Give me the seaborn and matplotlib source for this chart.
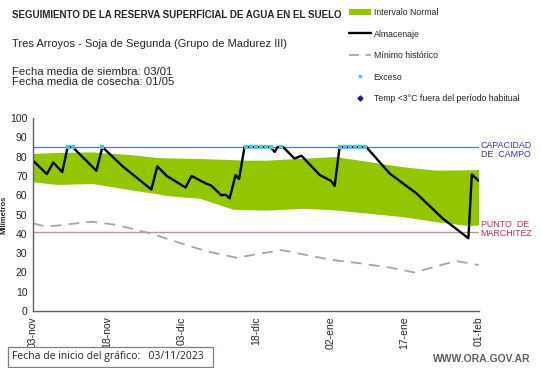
import numpy as np
import pandas as pd
import seaborn as sns
import matplotlib.pyplot as plt
from matplotlib.patches import Patch
from matplotlib.lines import Line2D

# días desde 03/11/2023
alm_dia = [0, 2.8, 4.1, 5.9, 7.0, 8.0, 12.8, 14.0, 18.2, 23.9, 25.1, 27.0, 30.8, 32.0,
           35.0, 36.0, 38.0, 38.9, 39.7, 40.9, 41.6, 42.7, 47.9, 48.8, 49.4, 50.5,
           52.8, 54.2, 57.9, 60.2, 60.9, 61.9, 67.3, 72.0, 77.4, 82.7, 87.9, 88.6, 90]
alm_val = [78, 71, 77, 72, 85, 85, 72.7, 85, 74.8, 63, 75, 70, 64, 70,
           66, 65, 60, 60.3, 58.4, 70.5, 68.4, 85, 85, 82.5, 85, 85,
           79, 80.5, 70.5, 67.4, 64.8, 85, 85, 71.3, 61, 48, 37.7, 70.8, 67.4]

banda_dia = [0, 4.8, 12, 20, 25, 27, 33.7, 40.4, 43, 47, 54.5, 60.5, 61.2, 68, 74.6, 81.4, 88.1, 90]
banda_sup = [81.7, 82.2, 82.5, 81, 79.6, 79.4, 79, 78.5, 78.2, 78.2, 79.2, 80, 80, 77.4, 74.8, 73, 73.2, 73.4]
banda_inf = [67, 65.6, 66.1, 62.7, 60.8, 59.8, 58.4, 52.7, 52.5, 52.3, 53.2, 52.5, 52.3, 50.6, 48.9, 46.3, 44.2, 44.6]

min_dia = [0, 2.8, 11.8, 16.9, 23.6, 30, 35, 41.1, 50.1, 60, 66, 72, 77, 85.4, 90]
min_val = [45.4, 43.7, 46.3, 44.6, 40.3, 35, 31, 27.6, 31.6, 26.6, 24.7, 22.5, 20, 25.9, 23.8]

exceso_dia = [7, 8, 14, 43, 44, 45, 46, 47, 48, 50, 62, 63, 64, 65, 66, 67]
exceso_val = [85] * len(exceso_dia)

capacidad = 85
marchitez = 41

tick_dias = [0, 15, 30, 45, 60, 75, 90]
tick_labels = ['03-nov', '18-nov', '03-dic', '18-dic', '02-ene', '17-ene', '01-feb']

verde = '#92c700'

sns.set_style('white')
plt.rcParams['font.family'] = ['Liberation Sans', 'DejaVu Sans']

fig = plt.figure(figsize=(5.41, 3.68), dpi=100)
ax = fig.add_axes([0.061, 0.155, 0.824, 0.524])

ax.fill_between(banda_dia, banda_inf, banda_sup, color=verde, linewidth=0)
ax.axhline(capacidad, color='#5a78c0', lw=0.9)
ax.axhline(marchitez, color='#c49595', lw=1.0)
sns.lineplot(x=min_dia, y=min_val, ax=ax, color='#a6a6a6', lw=1.3, linestyle=(0, (6, 4)))
sns.lineplot(x=alm_dia, y=alm_val, ax=ax, color='black', lw=1.7)
sns.scatterplot(x=exceso_dia, y=exceso_val, ax=ax, color='#3cc8e8', marker='s', s=5, linewidth=0, zorder=5)

ax.set_xlim(0, 90)
ax.set_ylim(0, 100)
ax.set_yticks(range(0, 101, 10))
ax.set_xticks(tick_dias)
ax.set_xticklabels(tick_labels, rotation=90)
ax.tick_params(axis='both', labelsize=7.5, length=3, width=0.8, color='#404040', pad=1)
for s in ['top', 'right']:
    ax.spines[s].set_visible(False)
for s in ['left', 'bottom']:
    ax.spines[s].set_color('#606060')
    ax.spines[s].set_linewidth(1.0)
ax.set_xlabel('')
ax.set_ylabel('Milímetros', fontsize=5.5, fontweight='bold', labelpad=2)

ax.text(1.004, capacidad - 1.5, 'CAPACIDAD\nDE  CAMPO', transform=ax.get_yaxis_transform(),
        color='#3535a8', fontsize=6.4, va='center', ha='left', linespacing=1.1)
ax.text(1.004, marchitez + 1.5, 'PUNTO  DE\nMARCHITEZ', transform=ax.get_yaxis_transform(),
        color='#c0304a', fontsize=6.4, va='center', ha='left', linespacing=1.1)

fig.text(12 / 541, 1 - 15 / 368, 'SEGUIMIENTO DE LA RESERVA SUPERFICIAL DE AGUA EN EL SUELO',
         fontsize=7.0, fontweight='bold', va='center')
fig.text(12 / 541, 1 - 44 / 368, 'Tres Arroyos - Soja de Segunda (Grupo de Madurez III)',
         fontsize=8.0, va='center')
fig.text(12 / 541, 1 - 77 / 368, 'Fecha media de siembra: 03/01\nFecha media de cosecha: 01/05',
         fontsize=8.2, va='center', linespacing=1.0)

handles = [
    Patch(facecolor=verde, edgecolor='none'),
    Line2D([], [], color='black', lw=1.7),
    Line2D([], [], color='#a6a6a6', lw=1.2, linestyle=(0, (6, 4))),
    Line2D([], [], color='#3cc8e8', marker='s', markersize=2, lw=0),
    Line2D([], [], color='#1a1a9a', marker='D', markersize=2.5, lw=0),
]
labels = ['Intervalo Normal', 'Almacenaje', 'Mínimo histórico', 'Exceso',
          'Temp <3°C fuera del período habitual']
fig.legend(handles, labels, loc='upper left', bbox_to_anchor=(349 / 541, 1 - 8 / 368),
           frameon=False, fontsize=6.3, labelspacing=1.43, handlelength=2.5,
           handletextpad=0.3, borderaxespad=0, borderpad=0)

fig.text(12 / 541, 1 - 357 / 368, 'Fecha de inicio del gráfico:   03/11/2023  ',
         fontsize=7.5, va='center', family=['Open Sans', 'DejaVu Sans'],
         bbox=dict(boxstyle='square,pad=0.4', facecolor='white', edgecolor='#8a7a7a', lw=0.9))
fig.text(530 / 541, 1 - 359 / 368, 'WWW.ORA.GOV.AR', fontsize=7.5, color='#606060',
         ha='right', va='center', fontweight='bold')

fig.savefig('out.png', dpi=100)
